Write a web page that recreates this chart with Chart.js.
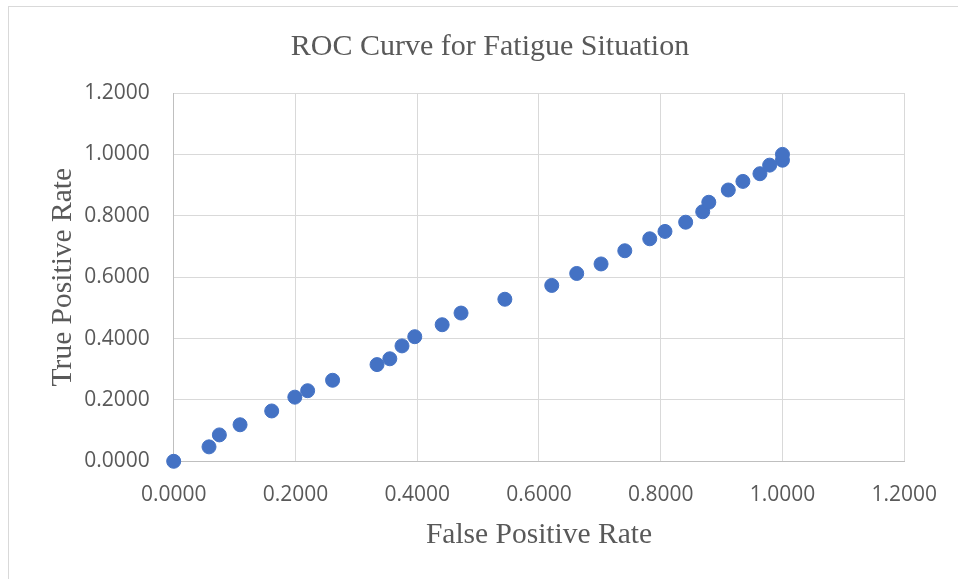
<!DOCTYPE html>
<html>
<head>
<meta charset="utf-8">
<script src="https://cdn.jsdelivr.net/npm/chart.js@4/dist/chart.umd.min.js"></script>
<style>
  html, body { margin: 0; padding: 0; background: #fff; }
  #wrap { position: relative; width: 958px; height: 579px; overflow: hidden; }
  #frame { position: absolute; left: 8px; top: 6px; width: 980px; height: 620px; border: 1px solid #d9d9d9; box-sizing: border-box; }
  canvas { position: absolute; left: 0; top: 0; }
</style>
</head>
<body>
<div id="wrap">
  <div id="frame"></div>
  <canvas id="rocChart" width="958" height="579"></canvas>
</div>
<script>
// Pontos da curva ROC
const fpr = [0, 0.058, 0.075, 0.109, 0.161, 0.199, 0.220, 0.261, 0.334, 0.355, 0.375, 0.396, 0.441, 0.472, 0.544,
             0.621, 0.662, 0.702, 0.741, 0.782, 0.807, 0.841, 0.869, 0.879, 0.911, 0.935, 0.963, 0.979, 1.0, 1.0];
const tpr = [0, 0.047, 0.086, 0.119, 0.164, 0.209, 0.230, 0.264, 0.315, 0.334, 0.376, 0.406, 0.445, 0.483, 0.528,
             0.573, 0.612, 0.643, 0.686, 0.725, 0.749, 0.779, 0.813, 0.844, 0.884, 0.912, 0.937, 0.965, 0.981, 1.0];
const axisMin = 0;
const axisMax = 1.2;
const axisStep = 0.2;

const points = fpr.map((x, i) => ({ x: x, y: tpr[i] }));

const tickFont = { family: "'Open Sans', 'Liberation Sans', sans-serif", size: 21 };
const serifFont = { family: "'Liberation Serif', 'DejaVu Serif', serif", size: 29.5 };

// título centrado na largura toda do gráfico (como no Excel)
const centerTitle = {
    id: 'centerTitle',
    afterLayout(chart) {
        const t = chart.titleBlock;
        if (t) {
            t.left = 22;
            t.right = 958;
            t.width = 936;
        }
    }
};

const ctx = document.getElementById('rocChart').getContext('2d');

const config = {
    type: 'scatter',
    data: {
        datasets: [{
            label: 'ROC',
            data: points,
            backgroundColor: '#4472C4',
            borderColor: '#4472C4',
            borderWidth: 1,
            pointRadius: 7,
            pointHoverRadius: 7,
            clip: false
        }]
    },
    options: {
        responsive: false,
        animation: false,
        layout: { padding: { left: 0, right: 52, top: 0, bottom: 0 } },
        plugins: {
            legend: { display: false },
            tooltip: { enabled: false },
            title: {
                display: true,
                text: 'ROC Curve for Fatigue Situation',
                color: '#595959',
                font: { family: serifFont.family, size: 30, weight: 'normal' },
                padding: { top: 29.5, bottom: 27.5 }
            }
        },
        scales: {
            x: {
                type: 'linear',
                min: axisMin,
                max: axisMax,
                afterFit: (s) => { s.height = 117.7; },
                ticks: {
                    stepSize: axisStep,
                    color: '#595959',
                    font: tickFont,
                    padding: 21,
                    maxRotation: 0,
                    callback: (v) => Number(v).toFixed(4)
                },
                grid: { color: '#d9d9d9', drawTicks: false },
                border: { color: '#bfbfbf' },
                title: {
                    display: true,
                    text: 'False Positive Rate',
                    color: '#595959',
                    font: serifFont,
                    padding: { top: 0, bottom: 25.6 }
                }
            },
            y: {
                type: 'linear',
                min: axisMin,
                max: axisMax,
                afterFit: (s) => { s.width = 173.7; },
                ticks: {
                    stepSize: axisStep,
                    color: '#595959',
                    font: tickFont,
                    padding: 24,
                    callback: (v) => Number(v).toFixed(4)
                },
                grid: { color: '#d9d9d9', drawTicks: false },
                border: { color: '#bfbfbf' },
                title: {
                    display: true,
                    text: 'True Positive Rate',
                    color: '#595959',
                    font: serifFont,
                    padding: { top: 45.3, bottom: 0 }
                }
            }
        }
    },
    plugins: [centerTitle]
};

const rocChart = new Chart(ctx, config);
</script>
</body>
</html>
